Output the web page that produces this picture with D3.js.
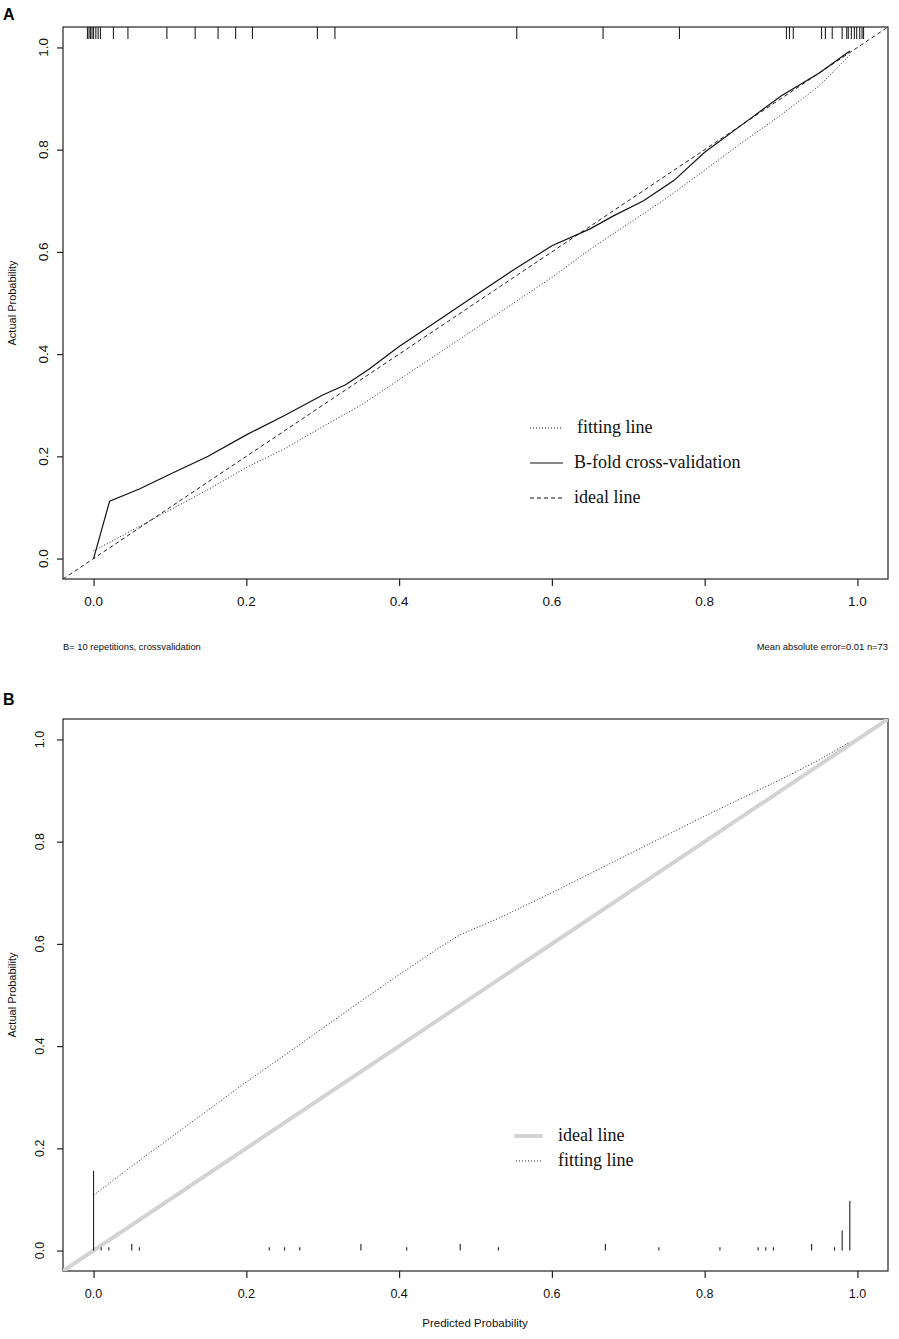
<!DOCTYPE html>
<html>
<head>
<meta charset="utf-8">
<script src="https://cdn.jsdelivr.net/npm/d3@7"></script>
<style>
    body { margin: 0; background: #fff; }
    svg { display: block; }
    .tick-label { font-family: 'Liberation Sans', Arial, sans-serif; fill: #111; }
    .axis-label { font-family: 'Liberation Sans', Arial, sans-serif; font-size: 11px; fill: #111; }
    .legend-text { font-family: 'Liberation Serif', 'Times New Roman', serif; font-size: 18px; fill: #111; }
    .panel-letter { font-family: 'Liberation Sans', Arial, sans-serif; font-size: 16px; font-weight: bold; fill: #000; }
    .footer { font-family: 'Liberation Sans', Arial, sans-serif; font-size: 9.4px; fill: #111; }
</style>
</head>
<body>
<svg id="chart"></svg>
<script>
// Tick values shared by both panels
var tickValues = [0.0, 0.2, 0.4, 0.6, 0.8, 1.0];
var tickLabels = ['0.0', '0.2', '0.4', '0.6', '0.8', '1.0'];

// Panel A: B-fold cross-validation calibration
var aFittingX = [0, 0.05, 0.1, 0.15, 0.2, 0.25, 0.3, 0.32, 0.35, 0.4, 0.45, 0.5, 0.55, 0.6, 0.65, 0.7, 0.75, 0.8, 0.85, 0.9, 0.95, 0.99];
var aFittingY = [0.015, 0.055, 0.095, 0.135, 0.178, 0.215, 0.258, 0.275, 0.30, 0.35, 0.40, 0.45, 0.50, 0.55, 0.605, 0.655, 0.705, 0.76, 0.815, 0.868, 0.925, 0.985];
var aCrossX = [0, 0.021, 0.06, 0.1, 0.15, 0.2, 0.25, 0.3, 0.33, 0.36, 0.4, 0.45, 0.5, 0.55, 0.6, 0.65, 0.68, 0.72, 0.76, 0.8, 0.85, 0.9, 0.95, 0.99];
var aCrossY = [0, 0.112, 0.136, 0.165, 0.20, 0.242, 0.28, 0.32, 0.34, 0.37, 0.415, 0.465, 0.515, 0.565, 0.612, 0.645, 0.67, 0.70, 0.74, 0.795, 0.85, 0.905, 0.95, 0.993];
// predicted values shown as rug along the top of panel A
var aRug = [-0.008, -0.006, -0.004, -0.002, 0.0, 0.003, 0.006, 0.009, 0.026, 0.045, 0.096, 0.133, 0.163, 0.186, 0.208,
    0.293, 0.316, 0.554, 0.667, 0.767, 0.907, 0.911, 0.916, 0.953, 0.958, 0.967, 0.980, 0.986, 0.988, 0.992, 0.996,
    0.999, 1.003, 1.006, 1.008];
var aLegend = ['fitting line', 'B-fold cross-validation', 'ideal line'];
var aFooterLeft = 'B= 10 repetitions, crossvalidation';
var aFooterRight = 'Mean absolute error=0.01 n=73';

// Panel B: apparent calibration
var bFittingX = [0, 0.05, 0.1, 0.15, 0.2, 0.25, 0.3, 0.35, 0.4, 0.45, 0.48, 0.53, 0.6, 0.7, 0.8, 0.9, 0.95, 0.99];
var bFittingY = [0.108, 0.165, 0.22, 0.275, 0.33, 0.382, 0.435, 0.488, 0.54, 0.59, 0.618, 0.65, 0.70, 0.775, 0.85, 0.922, 0.96, 0.995];
// histogram of predicted probabilities along the bottom of panel B
var bRiskX = [0.00, 0.01, 0.02, 0.05, 0.06, 0.23, 0.25, 0.27, 0.35, 0.41, 0.48, 0.53, 0.67, 0.74, 0.82, 0.87, 0.88, 0.89, 0.94, 0.97, 0.98, 0.99];
var bRiskCount = [24, 1, 1, 2, 1, 1, 1, 1, 2, 1, 2, 1, 2, 1, 1, 1, 1, 1, 2, 1, 6, 15];
var bLegend = ['ideal line', 'fitting line'];

var width = 899;
var height = 1339;
var svg = d3.select('#chart')
    .attr('width', width)
    .attr('height', height);

// Build a panel frame with R-like axes, return the scales
function makePanel(top, bottom, yLabelX, xLabelSize, yLabelSize, id) {
    var x = d3.scaleLinear().domain([-0.04, 1.04]).range([63, 888]);
    var y = d3.scaleLinear().domain([-0.04, 1.04]).range([bottom, top]);

    svg.append('clipPath').attr('id', id)
        .append('rect')
        .attr('x', 63).attr('y', top)
        .attr('width', 825).attr('height', bottom - top);

    // box
    svg.append('rect')
        .attr('x', 63).attr('y', top)
        .attr('width', 825).attr('height', bottom - top)
        .attr('fill', 'none')
        .attr('stroke', '#222')
        .attr('stroke-width', 1.2);

    // x axis
    var xAxis = d3.axisBottom(x).tickValues(tickValues).tickSize(7).tickFormat('');
    var gx = svg.append('g')
        .attr('transform', `translate(0, ${bottom})`)
        .call(xAxis);
    gx.select('.domain').remove();
    gx.selectAll('line').attr('stroke', '#222').attr('stroke-width', 1.2);

    svg.selectAll('.xlab-' + id)
        .data(tickValues)
        .enter()
        .append('text')
        .attr('class', 'tick-label')
        .attr('x', d => x(d))
        .attr('y', bottom + 27)
        .attr('text-anchor', 'middle')
        .style('font-size', xLabelSize + 'px')
        .text((d, i) => tickLabels[i]);

    // y axis
    var yAxis = d3.axisLeft(y).tickValues(tickValues).tickSize(6).tickFormat('');
    var gy = svg.append('g')
        .attr('transform', 'translate(63, 0)')
        .call(yAxis);
    gy.select('.domain').remove();
    gy.selectAll('line').attr('stroke', '#222').attr('stroke-width', 1.2);

    svg.selectAll('.ylab-' + id)
        .data(tickValues)
        .enter()
        .append('text')
        .attr('class', 'tick-label')
        .attr('transform', d => `translate(${yLabelX}, ${y(d)}) rotate(-90)`)
        .attr('text-anchor', 'middle')
        .style('font-size', yLabelSize + 'px')
        .text((d, i) => tickLabels[i]);

    // y axis title
    svg.append('text')
        .attr('class', 'axis-label')
        .attr('transform', `translate(16, ${(top + bottom) / 2}) rotate(-90)`)
        .attr('text-anchor', 'middle')
        .text('Actual Probability');

    return { x: x, y: y };
}

function zipPoints(xs, ys) {
    return xs.map((d, i) => [d, ys[i]]);
}

// ---------------- Panel A ----------------
var A = makePanel(27, 579, 48, 13.5, 13.5, 'clipA');
var lineA = d3.line().x(d => A.x(d[0])).y(d => A.y(d[1]));

svg.append('text').attr('class', 'panel-letter').attr('x', 3).attr('y', 20).text('A');

// ideal line through the whole box
svg.append('path')
    .datum([[-0.04, -0.04], [1.04, 1.04]])
    .attr('d', lineA)
    .attr('clip-path', 'url(#clipA)')
    .attr('fill', 'none')
    .attr('stroke', '#222')
    .attr('stroke-width', 1)
    .attr('stroke-dasharray', '4,3');

svg.append('path')
    .datum(zipPoints(aFittingX, aFittingY))
    .attr('d', lineA)
    .attr('fill', 'none')
    .attr('stroke', '#222')
    .attr('stroke-width', 1)
    .attr('stroke-dasharray', '1,2');

svg.append('path')
    .datum(zipPoints(aCrossX, aCrossY))
    .attr('d', lineA)
    .attr('fill', 'none')
    .attr('stroke', '#111')
    .attr('stroke-width', 1.2);

// rug at the top
svg.selectAll('.rugA')
    .data(aRug)
    .enter()
    .append('line')
    .attr('class', 'rugA')
    .attr('x1', d => A.x(d))
    .attr('x2', d => A.x(d))
    .attr('y1', 27)
    .attr('y2', 39)
    .attr('stroke', '#222')
    .attr('stroke-width', 1.1);

// legend A
var aDash = ['1,2', null, '4,3'];
var aLegY = [428, 463, 498];
aLegend.forEach(function(label, i) {
    svg.append('line')
        .attr('x1', 530).attr('x2', 563)
        .attr('y1', aLegY[i]).attr('y2', aLegY[i])
        .attr('stroke', '#111')
        .attr('stroke-width', i === 1 ? 1.2 : 1)
        .attr('stroke-dasharray', aDash[i]);
    svg.append('text')
        .attr('class', 'legend-text')
        .attr('x', i === 0 ? 577 : 574)
        .attr('y', aLegY[i] + 5)
        .text(label);
});

svg.append('text').attr('class', 'footer')
    .attr('x', 63).attr('y', 650)
    .text(aFooterLeft);
svg.append('text').attr('class', 'footer')
    .attr('x', 888).attr('y', 650)
    .attr('text-anchor', 'end')
    .text(aFooterRight);

// ---------------- Panel B ----------------
var B = makePanel(719, 1271, 44, 12.5, 12.5, 'clipB');
var lineB = d3.line().x(d => B.x(d[0])).y(d => B.y(d[1]));

svg.append('text').attr('class', 'panel-letter').attr('x', 3).attr('y', 705).text('B');

// ideal line (thick grey)
svg.append('path')
    .datum([[-0.04, -0.04], [1.04, 1.04]])
    .attr('d', lineB)
    .attr('clip-path', 'url(#clipB)')
    .attr('fill', 'none')
    .attr('stroke', '#d3d3d3')
    .attr('stroke-width', 4);

svg.append('path')
    .datum(zipPoints(bFittingX, bFittingY))
    .attr('d', lineB)
    .attr('fill', 'none')
    .attr('stroke', '#222')
    .attr('stroke-width', 1)
    .attr('stroke-dasharray', '1,2');

// risk distribution spikes
var spikeUnit = 0.0065;
svg.selectAll('.riskB')
    .data(bRiskX)
    .enter()
    .append('line')
    .attr('class', 'riskB')
    .attr('x1', d => B.x(d))
    .attr('x2', d => B.x(d))
    .attr('y1', B.y(0))
    .attr('y2', (d, i) => B.y(bRiskCount[i] * spikeUnit))
    .attr('stroke', '#222')
    .attr('stroke-width', 1.1);

// legend B
var bLegY = [1136, 1161];
bLegend.forEach(function(label, i) {
    svg.append('line')
        .attr('x1', 516).attr('x2', 541)
        .attr('y1', bLegY[i]).attr('y2', bLegY[i])
        .attr('stroke', i === 0 ? '#d3d3d3' : '#222')
        .attr('stroke-width', i === 0 ? 4 : 1)
        .attr('stroke-linecap', i === 0 ? 'round' : 'butt')
        .attr('stroke-dasharray', i === 0 ? null : '1,2');
    svg.append('text')
        .attr('class', 'legend-text')
        .attr('x', 558)
        .attr('y', bLegY[i] + 5)
        .text(label);
});

svg.append('text')
    .attr('class', 'axis-label')
    .attr('x', 475)
    .attr('y', 1327)
    .attr('text-anchor', 'middle')
    .style('font-size', '11.5px')
    .text('Predicted Probability');
</script>
</body>
</html>
